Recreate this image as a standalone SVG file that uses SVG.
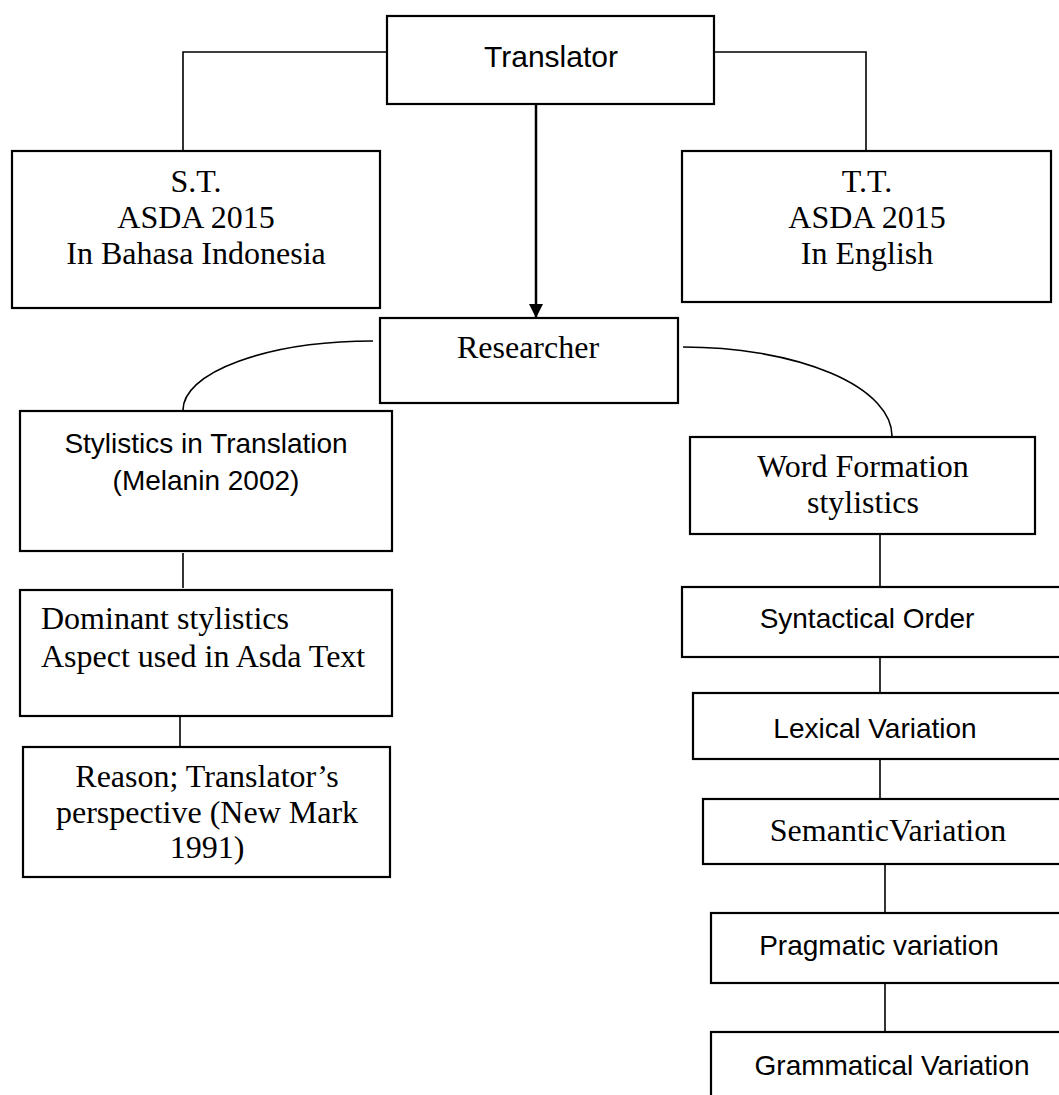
<svg xmlns="http://www.w3.org/2000/svg" width="1059" height="1095" viewBox="0 0 1059 1095">
<style>
.box{fill:#fff;stroke:#000;stroke-width:2.2}
.ln{fill:none;stroke:#000;stroke-width:1.6}
.sans{font-family:"Liberation Sans",Arial,sans-serif;font-size:28px;fill:#000}
.serif{font-family:"Liberation Serif","Times New Roman",serif;font-size:32px;fill:#000}
.c{text-anchor:middle}
</style>
<defs>
<marker id="ah" markerWidth="14" markerHeight="14" refX="14" refY="7" orient="auto" markerUnits="userSpaceOnUse">
<path d="M0,0 L14,7 L0,14 Z" fill="#000"/>
</marker>
</defs>
<rect width="1059" height="1095" fill="#fff"/>
<g id="connectors">
<polyline class="ln" points="387,52 183,52 183,151"/>
<polyline class="ln" points="714,52 866,52 866,151"/>
<line x1="536" y1="104" x2="536" y2="318" stroke="#000" stroke-width="2.5" marker-end="url(#ah)"/>
<path class="ln" d="M373,341 A190,69 0 0 0 183,410"/>
<path class="ln" d="M683,347 A209,89 0 0 1 892,436"/>
<line class="ln" x1="183" y1="553" x2="183" y2="588"/>
<line class="ln" x1="180" y1="716" x2="180" y2="747"/>
<line class="ln" x1="880" y1="534" x2="880" y2="587"/>
<line class="ln" x1="880" y1="657" x2="880" y2="693"/>
<line class="ln" x1="880" y1="759" x2="880" y2="799"/>
<line class="ln" x1="885" y1="864" x2="885" y2="913"/>
<line class="ln" x1="885" y1="983" x2="885" y2="1032"/>
</g>
<g id="translator">
<rect class="box" x="387" y="16" width="327" height="88"/>
<text class="sans c" x="551" y="67" style="font-size:30px">Translator</text>
</g>
<g id="st">
<rect class="box" x="12" y="151" width="368" height="157"/>
<text class="serif c" x="196" y="192">S.T.</text>
<text class="serif c" x="196" y="228">ASDA 2015</text>
<text class="serif c" x="196" y="264">In Bahasa Indonesia</text>
</g>
<g id="tt">
<rect class="box" x="682" y="151" width="369" height="151"/>
<text class="serif c" x="867" y="192">T.T.</text>
<text class="serif c" x="867" y="228">ASDA 2015</text>
<text class="serif c" x="867" y="264">In English</text>
</g>
<g id="researcher">
<rect class="box" x="380" y="318" width="298" height="85"/>
<text class="serif c" x="528" y="358">Researcher</text>
</g>
<g id="stylistics">
<rect class="box" x="20" y="411" width="372" height="140"/>
<text class="sans c" x="206" y="453">Stylistics in Translation</text>
<text class="sans c" x="206" y="490">(Melanin 2002)</text>
</g>
<g id="dominant">
<rect class="box" x="20" y="590" width="372" height="126"/>
<text class="serif" x="41" y="629">Dominant stylistics</text>
<text class="serif" x="41" y="667">Aspect used in Asda Text</text>
</g>
<g id="reason">
<rect class="box" x="23" y="747" width="367" height="130"/>
<text class="serif c" x="207" y="787">Reason; Translator’s</text>
<text class="serif c" x="207" y="823">perspective (New Mark</text>
<text class="serif c" x="207" y="858">1991)</text>
</g>
<g id="wordformation">
<rect class="box" x="690" y="437" width="345" height="97"/>
<text class="serif c" x="863" y="477">Word Formation</text>
<text class="serif c" x="863" y="513">stylistics</text>
</g>
<g id="syntactical">
<rect class="box" x="682" y="587" width="400" height="70"/>
<text class="sans c" x="867" y="628">Syntactical Order</text>
</g>
<g id="lexical">
<rect class="box" x="693" y="693" width="400" height="66"/>
<text class="sans c" x="875" y="738">Lexical Variation</text>
</g>
<g id="semantic">
<rect class="box" x="703" y="799" width="400" height="65"/>
<text class="serif c" x="888" y="841">SemanticVariation</text>
</g>
<g id="pragmatic">
<rect class="box" x="711" y="913" width="400" height="70"/>
<text class="sans c" x="879" y="955">Pragmatic variation</text>
</g>
<g id="grammatical">
<rect class="box" x="711" y="1032" width="400" height="100"/>
<text class="sans c" x="892" y="1075">Grammatical Variation</text>
</g>
</svg>
